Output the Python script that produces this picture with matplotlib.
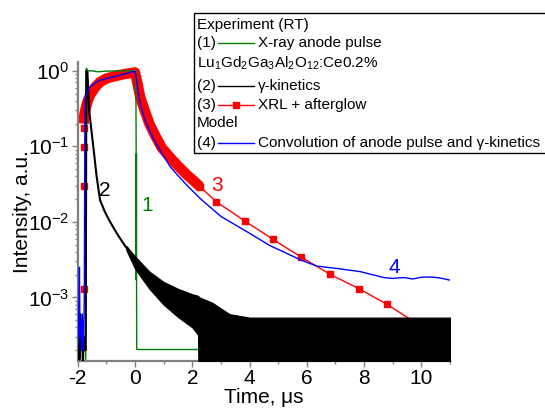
import matplotlib; matplotlib.use("Agg")
import matplotlib.pyplot as plt
from matplotlib.patches import Rectangle
from matplotlib.lines import Line2D
from matplotlib.ticker import LogLocator, MultipleLocator

plt.rcParams["font.family"] = ["Liberation Sans", "DejaVu Sans"]
plt.rcParams["mathtext.fontset"] = "custom"
plt.rcParams["mathtext.rm"] = "Liberation Sans"
plt.rcParams["mathtext.it"] = "Liberation Sans:italic"
plt.rcParams["axes.unicode_minus"] = False

# (1) X-ray anode pulse
green_x = [-1.72, -1.70, -1.66, -1.60, -1.50, -1.30, -1.0, -0.5, 0.0, 0.03, 0.04, 0.045, 0.05, 0.055, 0.06, 2.22]
green_y = [1.5e-4, 1.08, 1.03, 0.99, 1.0, 0.97, 0.99, 1.0, 1.0, 1.0, 0.09, 1.7e-3, 0.08, 1.7e-3, 2.04e-4, 2.04e-4]

# (2) gamma-kinetics: early decay + noisy tail (envelope)
black_x = [-2.0, -1.97, -1.94, -1.91, -1.88, -1.85, -1.82, -1.79, -1.76, -1.72, -1.70, -1.66, -1.60,
           -1.51, -1.42, -1.34, -1.22, -1.05, -0.87, -0.64, -0.41, -0.2, 0.0]
black_y = [2e-4, 5e-4, 1.5e-4, 6e-4, 2e-4, 4e-4, 1.2e-4, 3e-4, 2e-4, 2e-4, 1.0, 0.95, 0.30,
           0.149, 0.075, 0.04, 0.0194, 0.0135, 0.010, 7.1e-3, 5.2e-3, 4.0e-3, 3.1e-3]
noise_x = [-0.3, 0.0, 0.5, 1.0, 1.5, 2.0, 2.2, 2.25, 2.7, 3.3, 4.0, 6.0, 8.0, 11.0]
noise_hi = [4.8e-3, 3.5e-3, 2.2e-3, 1.6e-3, 1.3e-3, 1.1e-3, 1.05e-3, 1.0e-3, 8.5e-4, 6.0e-4, 5.4e-4, 5.4e-4, 5.4e-4, 5.4e-4]
noise_lo = [4.2e-3, 2.4e-3, 1.3e-3, 8e-4, 5.5e-4, 4e-4, 3.2e-4, 1e-5, 1e-5, 1e-5, 1e-5, 1e-5, 1e-5, 1e-5]

# (3) XRL + afterglow
red_rise_x = [-1.79, -1.79, -1.79, -1.79]
red_rise_y = [1.3e-3, 0.030, 0.099, 0.174]
red_x = [-1.79, -1.77, -1.72, -1.65, -1.57, -1.40, -1.22, -1.0, -0.70, -0.40, -0.17, 0.0,
         0.08, 0.18, 0.35, 0.50, 0.70, 0.94, 1.23, 1.50, 1.81, 2.05, 2.28]
red_y = [0.2, 0.26, 0.32, 0.40, 0.476, 0.60, 0.71, 0.79, 0.85, 0.90, 0.93, 0.95,
         0.70, 0.45, 0.29, 0.20, 0.14, 0.095, 0.071, 0.055, 0.042, 0.035, 0.029]
red_sx = [2.28, 2.84, 3.83, 4.82, 5.81, 6.82, 7.81, 8.80, 9.80, 10.8]
red_sy = [0.029, 0.0184, 0.0103, 5.85e-3, 3.4e-3, 2.01e-3, 1.31e-3, 8.1e-4, 4.6e-4, 2.9e-4]

# (4) model: convolution
blue_x = [-2.0, -1.97, -1.94, -1.92, -1.90, -1.87, -1.84, -1.80, -1.77, -1.75, -1.74, -1.65, -1.57,
          -1.40, -1.22, -1.0, -0.70, -0.40, -0.11, 0.0, 0.05, 0.12, 0.20, 0.35, 0.50, 0.64, 0.90,
          1.23, 1.50, 1.81, 2.28, 3.0, 3.91, 4.73, 5.07, 5.81, 6.36, 7.06, 7.87, 8.69, 9.0, 9.39,
          9.7, 10.0, 10.32, 10.6, 11.0]
blue_y = [2e-4, 4e-4, 2.5e-3, 3e-4, 5e-4, 2e-4, 6e-4, 2e-4, 1e-3, 0.2, 0.43, 0.55, 0.61,
          0.69, 0.75, 0.79, 0.84, 0.90, 0.97, 0.98, 0.80, 0.50, 0.35, 0.222, 0.165, 0.127, 0.085,
          0.0537, 0.041, 0.0306, 0.0203, 0.0118, 7.4e-3, 4.8e-3, 4.2e-3, 3.1e-3, 2.59e-3, 2.41e-3,
          2.19e-3, 1.83e-3, 1.78e-3, 1.83e-3, 1.75e-3, 1.85e-3, 1.86e-3, 1.82e-3, 1.69e-3]

fig = plt.figure(figsize=(5.45, 4.11), dpi=100)
ax = fig.add_axes([0.1426, 0.1224, 0.6831, 0.7275])
RED, GRN, BLU = "#ff0000", "#008000", "#0000ff"

ax.plot(red_x, red_y, c=RED, lw=7.5, zorder=1, solid_capstyle="butt")
ax.plot(red_rise_x, red_rise_y, ls="none", marker="s", ms=5, c=RED, zorder=1)
ax.plot(red_sx, red_sy, c=RED, lw=1, marker="s", ms=5, zorder=1)
ax.plot(green_x, green_y, c=GRN, lw=1, zorder=2)
ax.plot(black_x, black_y, c="k", lw=1.5, zorder=3)
ax.fill_between(noise_x, noise_lo, noise_hi, color="k", lw=0.8, zorder=3)
ax.plot(blue_x, blue_y, c=BLU, lw=1, zorder=4)

ax.text(-1.04, 0.026, "2", fontsize=15, color="k", ha="center", va="center")
ax.text(0.43, 0.0163, "1", fontsize=15, color=GRN, ha="center", va="center")
ax.text(2.86, 0.0306, "3", fontsize=15, color=RED, ha="center", va="center")
ax.text(9.06, 2.49e-3, "4", fontsize=15, color=BLU, ha="center", va="center")

ax.set_yscale("log")
ax.set_xlim(-2, 11); ax.set_ylim(1.45e-4, 1.32)
ax.xaxis.set_major_locator(MultipleLocator(2)); ax.xaxis.set_minor_locator(MultipleLocator(1))
ax.yaxis.set_major_locator(LogLocator(10, numticks=10))
ax.yaxis.set_minor_locator(LogLocator(10, subs=range(2, 10), numticks=20))
for s in ["top", "right"]:
    ax.spines[s].set_visible(False)
for s in ["left", "bottom"]:
    ax.spines[s].set_color("#808080"); ax.spines[s].set_linewidth(1.6)
ax.tick_params(which="both", direction="out", color="#808080", labelsize=15, width=1)
ax.tick_params(which="major", length=4, pad=2)
ax.tick_params(which="minor", length=2.5)
ax.set_xlabel("Time, μs", fontsize=15, labelpad=0)
ax.set_ylabel("Intensity, a.u.", fontsize=15, labelpad=-3)

# legend box drawn in figure coords
H = 411.0
def fy(p): return 1 - p / H
fig.add_artist(Rectangle((194 / 545, fy(153)), 0.7, fy(13) - fy(153), transform=fig.transFigure,
                         facecolor="white", edgecolor="k", lw=1, zorder=10))
rows = [(25, None, None, "Experiment (RT)"), (43, "(1)", GRN, "X-ray anode pulse"),
        (63, None, None, r"Lu$_1$Gd$_2$Ga$_3$Al$_2$O$_{12}$:Ce0.2%"),
        (86, "(2)", "k", "γ-kinetics"), (105, "(3)", RED, "XRL + afterglow"),
        (123, None, None, "Model"), (143, "(4)", BLU, "Convolution of anode pulse and γ-kinetics")]
for yp, num, col, txt in rows:
    if num is None:
        fig.text(197 / 545, fy(yp), txt, fontsize=11, va="center", ha="left", zorder=11)
    else:
        fig.text(197 / 545, fy(yp), num, fontsize=11, va="center", ha="left", zorder=11)
        fig.add_artist(Line2D([218 / 545, 254 / 545], [fy(yp), fy(yp)], color=col, lw=1,
                              transform=fig.transFigure, zorder=11))
        if col == RED:
            fig.add_artist(Line2D([236 / 545], [fy(yp)], color=RED, marker="s", ms=5,
                                  transform=fig.transFigure, zorder=11))
        fig.text(258 / 545, fy(yp), txt, fontsize=11, va="center", ha="left", zorder=11)

fig.savefig("out.png", dpi=100)
